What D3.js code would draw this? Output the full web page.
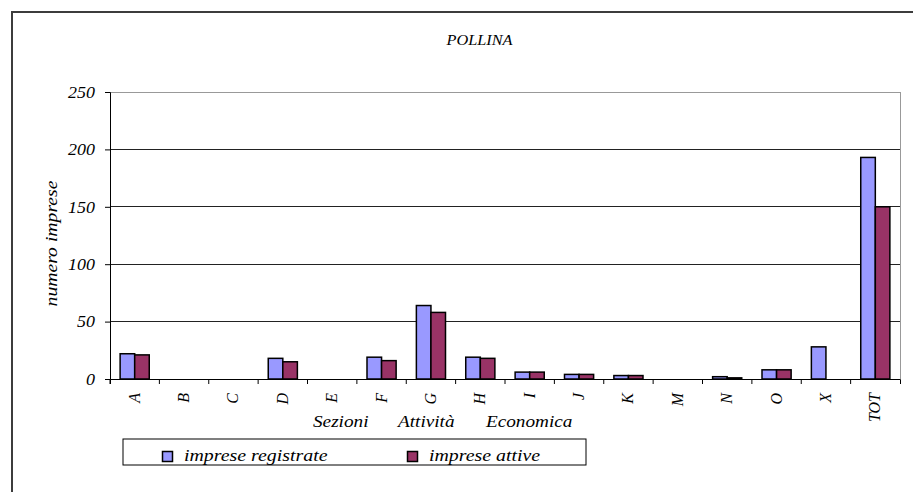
<!DOCTYPE html>
<html>
<head>
<meta charset="utf-8">
<script src="https://cdn.jsdelivr.net/npm/d3@7/dist/d3.min.js"></script>
</head>
<body style="margin:0">
<svg id="chart" width="913" height="492" style="display:block;background:#fff"></svg>
<script>
const categories = ["A","B","C","D","E","F","G","H","I","J","K","M","N","O","X","TOT"];
const registrate = [22,0,0,18,0,19,64,19,6,4,3,0,2,8,28,193];
const attive     = [21,0,0,15,0,16,58,18,6,4,3,0,1,8,0,150];
const seriesNames = ["imprese registrate","imprese attive"];
const yTicks = [0,50,100,150,200,250];
const titleText = "POLLINA";
const xTitleWords = ["Sezioni","Attività","Economica"];
const yTitle = "numero imprese";
const colors = ["#9999ff","#993366"];

(function(){
const font = (sel, size) => sel.style("font-family", '"Liberation Serif"').attr("font-style","italic").attr("font-size", size).attr("fill","#000");
const stretch = (sel, k) => sel.each(function(){
  const L = this.getComputedTextLength();
  this.setAttribute("textLength", (L*k).toFixed(1));
  this.setAttribute("lengthAdjust","spacingAndGlyphs");
});

const svg = d3.select("#chart");
svg.append("rect").attr("x",12).attr("y",12).attr("width",920).attr("height",500)
  .attr("fill","none").attr("stroke","#3c3c3c").attr("stroke-width",2);

const pL=110, pR=900, pT=92, pB=379;
const xb = d3.scaleBand().domain(categories).range([pL,pR]);
const y = d3.scaleLinear().domain([0,250]).range([pB,pT]);

svg.append("g").selectAll("line").data(yTicks.filter(d=>d>0)).join("line")
  .attr("x1",pL).attr("x2",pR).attr("y1",d=>y(d)).attr("y2",d=>y(d))
  .attr("stroke",d=>d===250?"#999":"#222").attr("stroke-width",1).attr("shape-rendering","crispEdges");
svg.append("line").attr("x1",pR).attr("x2",pR).attr("y1",pT).attr("y2",pB)
  .attr("stroke","#999").attr("shape-rendering","crispEdges");

const inner = d3.scaleBand().domain([0,1]).range([0, xb.bandwidth()*0.59]);
const data = [];
categories.forEach((c,i)=>{
  [registrate[i], attive[i]].forEach((v,si)=>{ if(v>0) data.push({c, si, v}); });
});
svg.append("g").selectAll("rect").data(data).join("rect")
  .attr("x",d=>xb(d.c)+xb.bandwidth()*0.205+inner(d.si))
  .attr("width",inner.bandwidth())
  .attr("y",d=>y(d.v)).attr("height",d=>pB-y(d.v))
  .attr("fill",d=>colors[d.si]).attr("stroke","#000").attr("stroke-width",1.5);

const yAxis = d3.axisLeft(y).tickValues(yTicks).tickSize(5).tickPadding(10);
const ya = svg.append("g").attr("transform",`translate(${pL},0)`).call(yAxis);
ya.attr("font-family",null).attr("font-size",null);
ya.select(".domain").attr("stroke","#000");
ya.selectAll(".tick line").attr("stroke","#000");
ya.selectAll(".tick text").call(font,16).attr("dy","0.33em").call(stretch,1.12);

const xAxis = d3.axisBottom(xb).tickSize(5).tickSizeOuter(5).tickFormat("");
const xa = svg.append("g").attr("transform",`translate(0,${pB})`).call(xAxis);
xa.attr("font-family",null).attr("font-size",null);
xa.select(".domain").attr("stroke","#000");
xa.selectAll(".tick line").attr("transform",`translate(${-xb.bandwidth()/2},0)`).attr("stroke","#000");
svg.append("g").selectAll("text").data(categories).join("text")
  .attr("transform",d=>`translate(${xb(d)+xb.bandwidth()/2+5},393) rotate(-90)`)
  .attr("text-anchor","end").call(font,16).text(d=>d);

const xt = svg.append("text").attr("y",427).call(font,16);
const xPos = [313,398,486];
xTitleWords.forEach((w,i)=>{ xt.append("tspan").attr("x",xPos[i]).text(w); });
stretch(xt.selectAll("tspan"),1.2);

svg.append("text").attr("transform","translate(57,243.5) rotate(-90)").attr("text-anchor","middle")
  .call(font,16).text(yTitle).call(stretch,1.23);
svg.append("text").attr("x",479.5).attr("y",45).attr("text-anchor","middle")
  .call(font,15).text(titleText).call(stretch,1.085);

const lg = svg.append("g");
lg.append("rect").attr("x",123).attr("y",439).attr("width",463).attr("height",26)
  .attr("fill","#fff").attr("stroke","#000").attr("stroke-width",1);
const lx = [162,407];
seriesNames.forEach((n,i)=>{
  lg.append("rect").attr("x",lx[i]+0.5).attr("y",451.5).attr("width",10).attr("height",10)
    .attr("fill",colors[i]).attr("stroke","#000").attr("stroke-width",1.5);
  lg.append("text").attr("x",lx[i]+22).attr("y",461).call(font,16).text(n).call(stretch,1.24);
});
})();
</script>
</body>
</html>
